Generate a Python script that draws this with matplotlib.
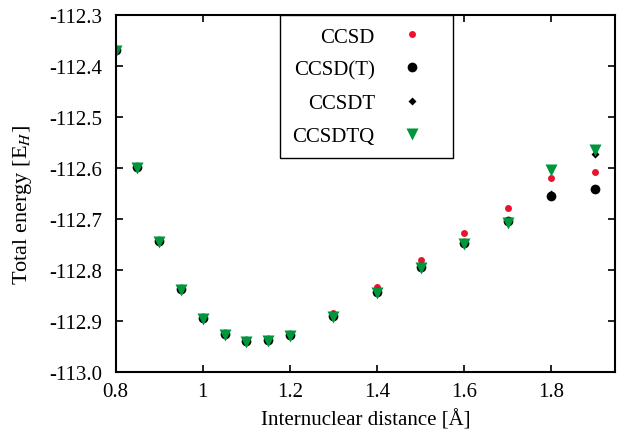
import numpy as np
import matplotlib
matplotlib.use("Agg")
import matplotlib.pyplot as plt
from matplotlib.ticker import FuncFormatter

plt.rcParams['font.family'] = ['Liberation Serif', 'DejaVu Serif']
plt.rcParams['mathtext.fontset'] = 'stix'

# internuclear distance (Angstrom)
dist = [0.8, 0.85, 0.9, 0.95, 1.0, 1.05, 1.1, 1.15, 1.2, 1.3, 1.4, 1.5, 1.6, 1.7, 1.8, 1.9]

# total energies (Hartree)
ccsd = [-112.369, -112.597, -112.742, -112.837, -112.894, -112.925, -112.937, -112.935,
        -112.926, -112.885, -112.833, -112.781, -112.728, -112.680, -112.620, -112.608]
ccsd_t = [-112.370, -112.598, -112.743, -112.838, -112.895, -112.926, -112.939, -112.937,
          -112.928, -112.891, -112.844, -112.794, -112.748, -112.704, -112.655, -112.641]
ccsdt = [-112.371, -112.599, -112.744, -112.839, -112.896, -112.927, -112.940, -112.938,
         -112.929, -112.892, -112.845, -112.795, -112.749, -112.706, -112.652, -112.574]
ccsdtq = [-112.372, -112.600, -112.745, -112.840, -112.897, -112.928, -112.941, -112.939,
          -112.930, -112.893, -112.846, -112.796, -112.750, -112.708, -112.604, -112.565]

x_ticks = [0.8, 1.0, 1.2, 1.4, 1.6, 1.8]
y_ticks = [-113.0, -112.9, -112.8, -112.7, -112.6, -112.5, -112.4, -112.3]

fig = plt.figure(figsize=(6.17, 4.31), dpi=100)
ax = fig.add_axes([0.1875, 0.135, 0.8095, 0.829])

ax.plot(dist, ccsd, 'o', ls='none', color='#e8142c', ms=5, mec='none', label='CCSD')
ax.plot(dist, ccsd_t, 'o', ls='none', color='black', ms=7, mec='none', label='CCSD(T)')
ax.plot(dist, ccsdt, 'D', ls='none', color='black', ms=4.2, mec='none', label='CCSDT')
ax.plot(dist, ccsdtq, 'v', ls='none', color='#00963c', ms=8.5, mec='none', label='CCSDTQ')

ax.set_xlim(0.8, 1.947)
ax.set_ylim(-113.0, -112.3)
ax.set_xticks(x_ticks)
ax.set_yticks(y_ticks)
ax.xaxis.set_major_formatter(FuncFormatter(lambda v, p: '%g' % v))
ax.yaxis.set_major_formatter(FuncFormatter(lambda v, p: '%.1f' % v))
ax.tick_params(direction='in', top=True, right=True, length=5, width=1.2, labelsize=15)
ax.tick_params(axis='x', pad=7)
ax.tick_params(axis='y', pad=10)
for s in ax.spines.values():
    s.set_linewidth(1.5)

ax.set_xlabel('Internuclear distance [Å]', fontsize=15, labelpad=6.5)
ax.set_ylabel('Total energy [E$_H$]', fontsize=16)
ax.yaxis.set_label_coords(-0.164, 0.47)

leg = ax.legend(loc='upper left', bbox_to_anchor=(0.329, 1.0), markerfirst=False,
                fontsize=15, fancybox=False, edgecolor='black', framealpha=1,
                borderaxespad=0, borderpad=0.6, labelspacing=0.65,
                handletextpad=0.45, handlelength=2.7)
leg.get_frame().set_linewidth(1.0)

fig.savefig('out.png', dpi=100)
